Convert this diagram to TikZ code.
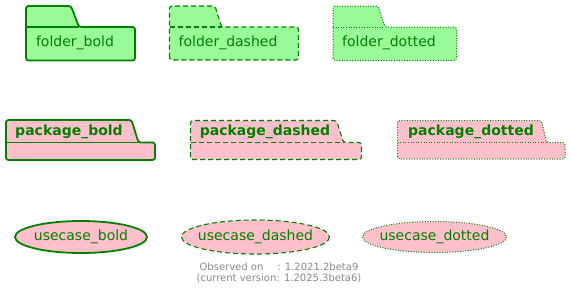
\documentclass[tikz,border=0pt]{standalone}
\usepackage{fontspec}
\setmainfont{DejaVu Sans}
\begin{document}
\begin{tikzpicture}[x=1pt,y=-1pt,
  every node/.style={inner sep=0pt,outer sep=0pt},
  lbold/.style={line width=1.8pt},
  ldashed/.style={line width=1.1pt,dash pattern=on 5pt off 3pt},
  ldotted/.style={line width=1pt,dash pattern=on 1pt off 1.6pt},
  shp/.style={draw=umlgreen,rounded corners=2.5pt},
  foldfill/.style={fill=foldgreen},
  packfill/.style={fill=packpink},
  lbl/.style={text=umlgreen,font=\fontsize{14}{16}\selectfont},
  plbl/.style={text=umlgreen,font=\fontsize{14}{16}\selectfont\bfseries},
  foot/.style={text=footgray,font=\fontsize{10}{12}\selectfont}
]
\definecolor{umlgreen}{HTML}{008000}
\definecolor{foldgreen}{HTML}{98FB98}
\definecolor{packpink}{HTML}{FFC0CB}
\definecolor{footgray}{HTML}{888888}
\useasboundingbox (0,0) rectangle (571,289);

% folders
\draw[shp,foldfill,lbold] (26,60.5) -- (26,6) -- (71,6) -- (79,27) -- (135,27) -- (135,60.5) -- cycle;
\draw[umlgreen,lbold] (26,27) -- (79,27);
\node[lbl] (fb) at (75,42.5) {folder\_bold};

\draw[shp,foldfill,ldashed] (169.5,60) -- (169.5,6) -- (215,6) -- (221.5,27) -- (298.5,27) -- (298.5,60) -- cycle;
\draw[umlgreen,ldashed] (169.5,27) -- (221.5,27);
\node[lbl] (fd) at (228,42.5) {folder\_dashed};

\draw[shp,foldfill,ldotted] (333,60.5) -- (333,6) -- (378,6) -- (385,27) -- (456.5,27) -- (456.5,60.5) -- cycle;
\draw[umlgreen,ldotted] (333,27) -- (385,27);
\node[lbl] (fo) at (389,42.5) {folder\_dotted};

% packages
\draw[shp,packfill,lbold] (6,160) -- (6,120) -- (131.5,120) -- (138.5,142.5) -- (155,142.5) -- (155,160) -- cycle;
\draw[umlgreen,lbold] (6,142.5) -- (138.5,142.5);
\node[plbl] (pb) at (69,131.5) {package\_bold};

\draw[shp,packfill,ldashed] (190.5,159.5) -- (190.5,120.5) -- (336.5,120.5) -- (343.5,142.5) -- (361.5,142.5) -- (361.5,159.5) -- cycle;
\draw[umlgreen,ldashed] (190.5,142.5) -- (343.5,142.5);
\node[plbl] (pd) at (265,131.5) {package\_dashed};

\draw[shp,packfill,ldotted] (397.5,159) -- (397.5,120.5) -- (541.5,120.5) -- (546.5,142.5) -- (565,142.5) -- (565,159) -- cycle;
\draw[umlgreen,ldotted] (397.5,142.5) -- (546.5,142.5);
\node[plbl] (po) at (471,131.5) {package\_dotted};

% usecases
\draw[umlgreen,fill=packpink,lbold] (81,237) ellipse [x radius=66,y radius=16];
\node[lbl] (ub) at (81,237) {usecase\_bold};
\draw[umlgreen,fill=packpink,ldashed] (255.5,237) ellipse [x radius=74,y radius=17];
\node[lbl] (ud) at (255.5,237) {usecase\_dashed};
\draw[umlgreen,fill=packpink,ldotted] (434.5,237) ellipse [x radius=72,y radius=15.5];
\node[lbl] (uo) at (434.5,237) {usecase\_dotted};

% footer
\node[foot] (f1) at (279,266.5) {Observed on\hspace{14pt}: 1.2021.2beta9};
\node[foot] (f2) at (279,278) {(current version: 1.2025.3beta6)};
\end{tikzpicture}
\end{document}
